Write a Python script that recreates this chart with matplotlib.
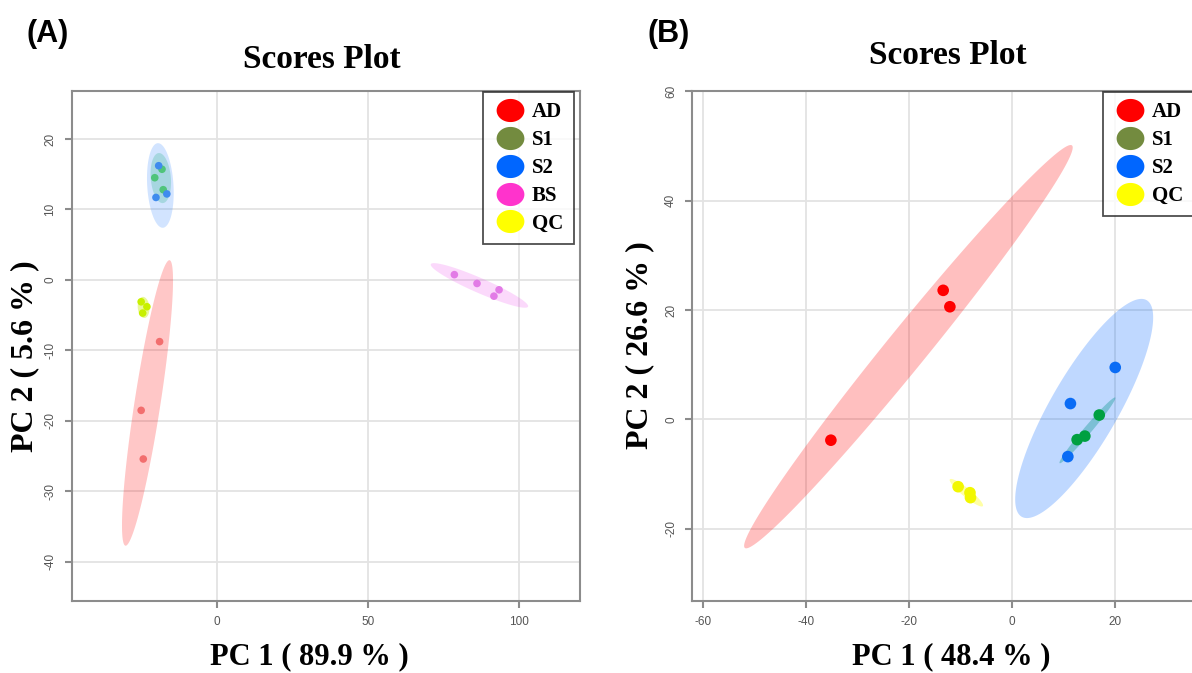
import numpy as np
import matplotlib.pyplot as plt
from matplotlib.patches import Polygon
from matplotlib.lines import Line2D
from matplotlib.path import Path

plt.rcParams["axes.unicode_minus"] = False

# ---- panel A data (PC1 89.9 %, PC2 5.6 %)
a_groups = ["AD", "S1", "S2", "BS", "QC"]
a_x = {
    "AD": [-19.0, -25.1, -24.4],
    "S1": [-18.2, -20.6, -17.8],
    "S2": [-19.3, -20.2, -16.6],
    "BS": [78.6, 86.1, 93.4, 91.7],
    "QC": [-25.1, -23.2, -24.6],
}
a_y = {
    "AD": [-8.75, -18.5, -25.4],
    "S1": [15.7, 14.5, 12.8],
    "S2": [16.2, 11.7, 12.2],
    "BS": [0.75, -0.5, -1.4, -2.3],
    "QC": [-3.1, -3.8, -4.7],
}
# confidence ellipses: centre x, centre y, tip x, tip y, minor/major ratio
a_ell = {
    "AD": (-23.0, -17.45, -15.7, 2.8, 0.09),
    "S1": (-18.6, 14.45, -19.3, 18.0, 0.40),
    "S2": (-18.75, 13.4, -19.6, 19.4, 0.31),
    "BS": (86.9, -0.78, 70.8, 2.23, 0.14),
    "QC": (-24.3, -3.9, -24.6, -2.4, 0.55),
}

# ---- panel B data (PC1 48.4 %, PC2 26.6 %)
b_groups = ["AD", "S1", "S2", "QC"]
b_x = {
    "AD": [-35.1, -13.3, -12.0],
    "S1": [17.0, 12.7, 14.2],
    "S2": [20.1, 11.4, 10.9],
    "QC": [-10.4, -8.1, -8.0],
}
b_y = {
    "AD": [-3.8, 23.6, 20.6],
    "S1": [0.8, -3.7, -3.05],
    "S2": [9.5, 2.9, -6.8],
    "QC": [-12.3, -13.4, -14.3],
}
b_ell = {
    "AD": (-20.05, 13.3, 11.7, 50.1, 0.078),
    "S1": (14.7, -2.0, 20.1, 4.0, 0.09),
    "S2": (14.07, 2.0, 26.2, 21.8, 0.27),
    "QC": (-8.8, -13.4, -5.6, -15.85, 0.2),
}

legend_colors = {"AD": "#FF0000", "S1": "#738B3F", "S2": "#0066FF",
                 "BS": "#FF33CC", "QC": "#FFFF00"}
a_pt_colors = {"AD": "#F26E6E", "S1": "#4FC47A", "S2": "#3F8BEE",
               "BS": "#E27BE6", "QC": "#C8F000"}
a_fill = {"AD": ("#FF0000", 0.22), "S1": ("#22BB66", 0.25), "S2": ("#3388FF", 0.22),
          "BS": ("#EE55EE", 0.22), "QC": ("#CCEE00", 0.4)}
b_pt_colors = {"AD": "#FF0000", "S1": "#00A040", "S2": "#0A6CF5", "QC": "#F2F700"}
b_fill = {"AD": ("#FF0000", 0.25), "S1": ("#00A060", 0.35), "S2": ("#0066FF", 0.25),
          "QC": ("#FFFF00", 0.35)}

serif = "Liberation Serif"
sans = "Liberation Sans"

W, H = 1192, 673
fig = plt.figure(figsize=(W / 100, H / 100), dpi=100)


def px_axes(l, t, r, b):
    return fig.add_axes([l / W, 1 - b / H, (r - l) / W, (b - t) / H])


def ellipse(ax, spec, color, alpha):
    cx, cy, tx, ty, ratio = spec
    c = ax.transData.transform((cx, cy))
    t = ax.transData.transform((tx, ty))
    a = t - c
    b = ratio * np.array([-a[1], a[0]])
    th = np.linspace(0, 2 * np.pi, 200)
    pts = c + np.outer(np.cos(th), a) + np.outer(np.sin(th), b)
    pts = ax.transData.inverted().transform(pts)
    ax.add_patch(Polygon(pts, closed=True, facecolor=color, alpha=alpha,
                         edgecolor="none", zorder=2))


def style(ax, xt, yt):
    ax.set_xticks(xt)
    ax.set_yticks(yt)
    ax.grid(True, color="#E3E3E3", linewidth=1.3, zorder=0)
    ax.set_axisbelow(True)
    for s in ax.spines.values():
        s.set_color("#8C8C8C")
        s.set_linewidth(1.5)
    ax.tick_params(colors="#8C8C8C", length=5, width=1.5, labelsize=8.5,
                   labelcolor="#555555", pad=6)
    for lab in ax.get_xticklabels() + ax.get_yticklabels():
        lab.set_family(sans)
    for lab in ax.get_yticklabels():
        lab.set_rotation(90)
        lab.set_va("center")


# oval legend marker
th = np.linspace(0, 2 * np.pi, 60)
oval = Path(np.column_stack([1.2 * np.cos(th), np.sin(th)]))


def legend(groups, anchor):
    handles = [Line2D([], [], linestyle="none", marker=oval, markersize=20,
                      markerfacecolor=legend_colors[g], markeredgecolor="none")
               for g in groups]
    lg = fig.legend(handles, groups, loc="upper left", bbox_to_anchor=anchor,
                    frameon=True, fancybox=False, edgecolor="#222222",
                    prop={"family": serif, "weight": "bold", "size": 15},
                    handlelength=1.6, handletextpad=0.25, labelspacing=0.38,
                    borderpad=0.5, borderaxespad=0)
    lg.get_frame().set_linewidth(1.3)


# ---- panel A
axA = px_axes(71.7, 91, 580, 600.7)
axA.set_xlim(-48.1, 120.2)
axA.set_ylim(-45.5, 26.8)
for g in a_groups:
    ellipse(axA, a_ell[g], *a_fill[g])
for g in a_groups:
    axA.scatter(a_x[g], a_y[g], s=30, color=a_pt_colors[g], edgecolors="none", zorder=3)
style(axA, [0, 50, 100], [-40, -30, -20, -10, 0, 10, 20])

# ---- panel B
axB = px_axes(692.3, 90.7, 1192, 601)
axB.set_xlim(-62.0, 35.0)
axB.set_ylim(-33.2, 60.1)
for g in b_groups:
    ellipse(axB, b_ell[g], *b_fill[g])
for g in b_groups:
    axB.scatter(b_x[g], b_y[g], s=70, color=b_pt_colors[g], edgecolors="none", zorder=3)
style(axB, [-60, -40, -20, 0, 20], [-20, 0, 20, 40, 60])
axB.spines["right"].set_visible(False)

legend(a_groups, (483 / W, 1 - 91.7 / H))
legend(b_groups, (1103 / W, 1 - 91.7 / H))

# titles and labels
tfont = dict(family=serif, weight="bold", ha="center", va="center")
fig.text(322 / W, 1 - 60 / H, "Scores Plot", size=24, **tfont)
fig.text(948 / W, 1 - 56 / H, "Scores Plot", size=24, **tfont)
fig.text(309 / W, 1 - 657 / H, "PC 1 ( 89.9 % )", size=22, **tfont)
fig.text(951 / W, 1 - 657 / H, "PC 1 ( 48.4 % )", size=22, **tfont)
fig.text(25 / W, 1 - 356 / H, "PC 2 ( 5.6 % )", size=23, rotation=90, **tfont)
fig.text(640 / W, 1 - 345 / H, "PC 2 ( 26.6 % )", size=23, rotation=90, **tfont)
fig.text(48 / W, 1 - 34 / H, "(A)", size=22, family=sans, weight="bold",
         ha="center", va="center")
fig.text(669 / W, 1 - 34 / H, "(B)", size=22, family=sans, weight="bold",
         ha="center", va="center")

fig.savefig("out.png", dpi=100)
